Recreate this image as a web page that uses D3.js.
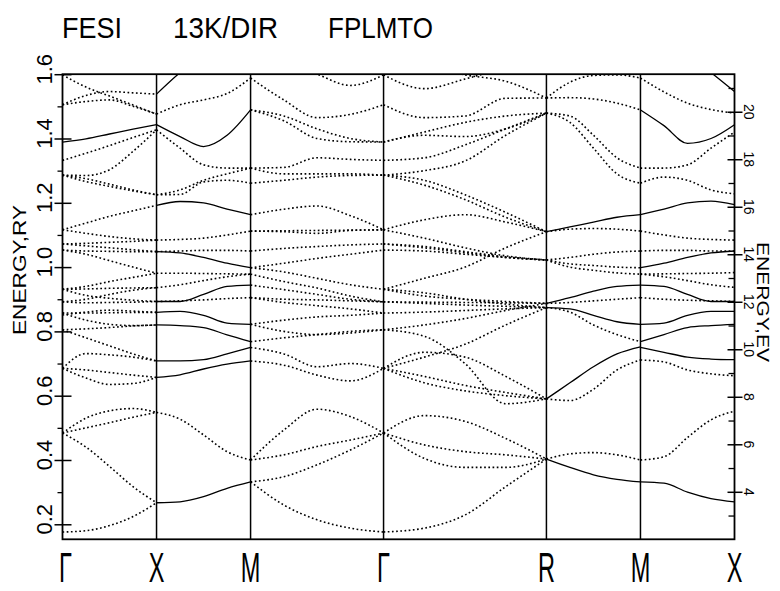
<!DOCTYPE html>
<html>
<head>
<meta charset="utf-8">
<script src="https://cdn.jsdelivr.net/npm/d3@7"></script>
<style>
  body { margin: 0; background: #fff; }
  text { font-family: "Liberation Sans", "DejaVu Sans", sans-serif; fill: #000; }
</style>
</head>
<body>
<svg id="chart" width="780" height="591"></svg>
<script>
// symmetry points along the k path and their distances (units of 2pi/a)
const kNames = ["Γ", "X", "M", "Γ", "R", "M", "X"];
const kDist = [0, 0.5, 1.0, 1.7071, 2.5731, 3.0731, 3.5731];

const ryTicks = [0.2, 0.4, 0.6, 0.8, 1.0, 1.2, 1.4, 1.6];
const ryMinor = [0.3, 0.5, 0.7, 0.9, 1.1, 1.3, 1.5];
const evTicks = [4, 6, 8, 10, 12, 14, 16, 18, 20];
const evMinor = [3, 5, 7, 9, 11, 13, 15, 17, 19, 21];

// band energies (Ry), sampled evenly along each segment
// "pairs" are degenerate bands that plot as a continuous line
const bandsGX = [
  [0.176, 0.180, 0.196, 0.224, 0.267],
  [0.484, 0.44, 0.38, 0.317, 0.267],
  [0.484, 0.53, 0.553, 0.56, 0.548],
  [0.484, 0.50, 0.516, 0.533, 0.548],
  [0.685, 0.655, 0.635, 0.638, 0.657],
  [0.685, 0.68, 0.672, 0.664, 0.657],
  [0.685, 0.731, 0.727, 0.72, 0.708],
  [0.805, 0.78, 0.755, 0.73, 0.708],
  [0.805, 0.808, 0.812, 0.817, 0.82],
  [0.857, 0.835, 0.822, 0.818, 0.82],
  [0.857, 0.857, 0.858, 0.859, 0.859],
  [0.851, 0.86, 0.866, 0.863, 0.859],
  [0.892, 0.889, 0.89, 0.891, 0.893],
  [0.931, 0.912, 0.903, 0.897, 0.893],
  [0.892, 0.9, 0.915, 0.928, 0.936],
  [0.931, 0.932, 0.934, 0.935, 0.936],
  [0.931, 0.94, 0.955, 0.968, 0.981],
  [1.053, 1.04, 1.02, 1.0, 0.981],
  [1.053, 1.05, 1.049, 1.048, 1.048],
  [1.072, 1.066, 1.06, 1.054, 1.048],
  [1.072, 1.074, 1.077, 1.08, 1.084],
  [1.116, 1.105, 1.095, 1.088, 1.084],
  [1.116, 1.137, 1.158, 1.175, 1.192],
  [1.286, 1.266, 1.251, 1.237, 1.225],
  [1.286, 1.275, 1.258, 1.24, 1.225],
  [1.286, 1.285, 1.303, 1.36, 1.427],
  [1.332, 1.354, 1.378, 1.403, 1.427],
  [1.505, 1.515, 1.52, 1.50, 1.476],
  [1.598, 1.56, 1.532, 1.504, 1.476],
  [1.505, 1.534, 1.546, 1.542, 1.538]
];
const pairsGX = [
  [1.389, 1.399, 1.414, 1.429, 1.443]
];

const bandsXM = [
  [0.548, 0.527, 0.478, 0.426, 0.40],
  [1.084, 1.086, 1.09, 1.10, 1.112],
  [1.048, 1.05, 1.052, 1.052, 1.05],
  [0.981, 0.981, 0.98, 0.979, 0.978],
  [0.936, 0.945, 0.958, 0.97, 0.978],
  [0.893, 0.895, 0.898, 0.902, 0.905],
  [1.476, 1.505, 1.52, 1.54, 1.588],
  [1.427, 1.37, 1.318, 1.308, 1.308],
  [1.225, 1.226, 1.265, 1.27, 1.261],
  [1.225, 1.24, 1.27, 1.29, 1.308]
];
const pairsXM = [
  [0.267, 0.27, 0.286, 0.312, 0.332],
  [0.657, 0.665, 0.683, 0.698, 0.708],
  [0.708, 0.708, 0.712, 0.73, 0.75],
  [0.82, 0.818, 0.812, 0.789, 0.768],
  [0.859, 0.862, 0.85, 0.826, 0.822],
  [0.893, 0.893, 0.915, 0.94, 0.944],
  [1.048, 1.044, 1.03, 1.012, 0.998],
  [1.192, 1.204, 1.2, 1.18, 1.163],
  [1.443, 1.406, 1.375, 1.41, 1.489],
  [1.538, 1.605, 1.66, 1.70, 1.72]
];

const bandsMG = [
  [0.40, 0.493, 0.558, 0.535, 0.484],
  [0.40, 0.416, 0.442, 0.462, 0.484],
  [0.332, 0.348, 0.385, 0.431, 0.484],
  [0.332, 0.26, 0.214, 0.188, 0.176],
  [0.708, 0.695, 0.664, 0.646, 0.685],
  [0.75, 0.73, 0.69, 0.70, 0.685],
  [0.768, 0.78, 0.79, 0.80, 0.805],
  [0.822, 0.80, 0.79, 0.795, 0.805],
  [0.822, 0.835, 0.845, 0.85, 0.857],
  [0.905, 0.89, 0.88, 0.87, 0.857],
  [0.905, 0.90, 0.898, 0.895, 0.892],
  [0.944, 0.93, 0.915, 0.9, 0.892],
  [0.978, 0.955, 0.935, 0.91, 0.892],
  [0.998, 0.985, 0.965, 0.945, 0.931],
  [0.998, 1.012, 1.027, 1.04, 1.053],
  [1.05, 1.058, 1.064, 1.069, 1.072],
  [1.112, 1.11, 1.105, 1.114, 1.116],
  [1.112, 1.113, 1.114, 1.115, 1.116],
  [1.163, 1.18, 1.19, 1.16, 1.116],
  [1.261, 1.27, 1.28, 1.285, 1.286],
  [1.308, 1.31, 1.34, 1.335, 1.332],
  [1.308, 1.29, 1.29, 1.29, 1.286],
  [1.489, 1.455, 1.40, 1.39, 1.389],
  [1.489, 1.47, 1.43, 1.40, 1.389],
  [1.588, 1.52, 1.465, 1.475, 1.505],
  [1.70, 1.64, 1.60, 1.565, 1.598]
];
const pairsMG = [];

const bandsGR = [
  [0.484, 0.538, 0.52, 0.467, 0.403],
  [0.484, 0.447, 0.426, 0.416, 0.403],
  [0.484, 0.405, 0.377, 0.377, 0.403],
  [0.176, 0.188, 0.229, 0.317, 0.403],
  [0.685, 0.66, 0.632, 0.61, 0.59],
  [0.685, 0.64, 0.615, 0.60, 0.59],
  [0.685, 0.735, 0.72, 0.66, 0.59],
  [0.805, 0.785, 0.70, 0.575, 0.59],
  [0.685, 0.72, 0.76, 0.82, 0.874],
  [0.805, 0.82, 0.84, 0.865, 0.887],
  [0.857, 0.86, 0.865, 0.87, 0.874],
  [0.892, 0.891, 0.89, 0.889, 0.887],
  [0.892, 0.887, 0.882, 0.878, 0.874],
  [0.931, 0.92, 0.9, 0.885, 0.874],
  [0.931, 0.91, 0.9, 0.893, 0.887],
  [0.931, 0.965, 1.0, 1.06, 1.11],
  [1.053, 1.05, 1.04, 1.03, 1.022],
  [1.072, 1.064, 1.048, 1.032, 1.022],
  [1.072, 1.06, 1.045, 1.03, 1.022],
  [1.116, 1.09, 1.06, 1.035, 1.022],
  [1.116, 1.147, 1.163, 1.14, 1.11],
  [1.286, 1.255, 1.21, 1.155, 1.11],
  [1.286, 1.27, 1.225, 1.17, 1.11],
  [1.286, 1.30, 1.33, 1.41, 1.479],
  [1.332, 1.34, 1.38, 1.43, 1.479],
  [1.389, 1.41, 1.406, 1.43, 1.479],
  [1.389, 1.42, 1.45, 1.47, 1.479],
  [1.505, 1.465, 1.47, 1.525, 1.526],
  [1.66, 1.63, 1.598, 1.578, 1.526],
  [1.598, 1.555, 1.585, 1.62, 1.65]
];
const pairsGR = [];

const bandsRM = [
  [0.403, 0.419, 0.423, 0.416, 0.40],
  [0.59, 0.585, 0.62, 0.68, 0.711],
  [0.874, 0.86, 0.82, 0.79, 0.768],
  [0.887, 0.89, 0.895, 0.90, 0.905],
  [1.022, 1.03, 1.04, 1.047, 1.05],
  [1.022, 1.01, 1.005, 1.0, 0.998],
  [1.022, 1.0, 0.99, 0.982, 0.978],
  [1.11, 1.118, 1.12, 1.118, 1.112],
  [1.479, 1.47, 1.41, 1.34, 1.308],
  [1.479, 1.45, 1.37, 1.29, 1.261],
  [1.526, 1.575, 1.596, 1.598, 1.588],
  [1.526, 1.527, 1.523, 1.51, 1.489]
];
const pairsRM = [
  [0.403, 0.377, 0.354, 0.34, 0.332],
  [0.59, 0.64, 0.69, 0.73, 0.752],
  [0.874, 0.87, 0.85, 0.83, 0.822],
  [0.887, 0.905, 0.925, 0.94, 0.944],
  [1.11, 1.125, 1.14, 1.155, 1.163]
];

const bandsMX = [
  [0.40, 0.41, 0.47, 0.525, 0.552],
  [0.711, 0.705, 0.68, 0.668, 0.662],
  [0.905, 0.90, 0.897, 0.895, 0.893],
  [0.978, 0.979, 0.98, 0.981, 0.983],
  [0.978, 0.97, 0.958, 0.945, 0.937],
  [1.05, 1.052, 1.052, 1.05, 1.05],
  [1.112, 1.10, 1.09, 1.086, 1.084],
  [1.261, 1.28, 1.27, 1.24, 1.228],
  [1.308, 1.308, 1.318, 1.37, 1.42],
  [1.588, 1.545, 1.51, 1.49, 1.479]
];
const pairsMX = [
  [0.332, 0.328, 0.30, 0.28, 0.27],
  [0.75, 0.735, 0.72, 0.714, 0.712],
  [0.768, 0.79, 0.812, 0.818, 0.822],
  [0.822, 0.826, 0.85, 0.862, 0.862],
  [0.944, 0.94, 0.915, 0.893, 0.893],
  [0.998, 1.012, 1.03, 1.044, 1.05],
  [1.163, 1.18, 1.2, 1.205, 1.194],
  [1.489, 1.44, 1.385, 1.40, 1.443],
  [1.72, 1.70, 1.66, 1.605, 1.546]
];

const segBands = [bandsGX, bandsXM, bandsMG, bandsGR, bandsRM, bandsMX];
const segPairs = [pairsGX, pairsXM, pairsMG, pairsGR, pairsRM, pairsMX];

// layout
const plot = { left: 62.5, right: 734.5, top: 74.2, bottom: 539.3 };

const svg = d3.select("#chart");

const x = d3.scaleLinear().domain([0, kDist[kDist.length - 1]]).range([plot.left, plot.right]);
const y = d3.scaleLinear().domain([0.1533, 1.6]).range([plot.bottom, plot.top]);
const yEv = d3.scaleLinear().domain([2.0, 21.58]).range([plot.bottom, plot.top]);

svg.append("defs").append("clipPath").attr("id", "clip")
  .append("rect")
  .attr("x", plot.left).attr("y", plot.top)
  .attr("width", plot.right - plot.left).attr("height", plot.bottom - plot.top);

const line = d3.line().curve(d3.curveMonotoneX);

const bandG = svg.append("g").attr("clip-path", "url(#clip)");

function drawSegment(list, i, solid) {
  const k0 = kDist[i], k1 = kDist[i + 1];
  list.forEach(e => {
    const pts = e.map((v, j) => [x(k0 + (k1 - k0) * j / (e.length - 1)), y(v)]);
    bandG.append("path")
      .attr("d", line(pts))
      .attr("fill", "none")
      .attr("stroke", "#000")
      .attr("stroke-width", solid ? 1.3 : 1.6)
      .attr("stroke-dasharray", solid ? null : "1.7,2.5");
  });
}

segBands.forEach((list, i) => drawSegment(list, i, false));
segPairs.forEach((list, i) => drawSegment(list, i, true));

// symmetry lines
svg.append("g").selectAll("line")
  .data(kDist.slice(1, -1))
  .enter().append("line")
  .attr("x1", d => x(d)).attr("x2", d => x(d))
  .attr("y1", plot.top).attr("y2", plot.bottom)
  .attr("stroke", "#000").attr("stroke-width", 1.5);

// frame
svg.append("rect")
  .attr("x", plot.left).attr("y", plot.top)
  .attr("width", plot.right - plot.left).attr("height", plot.bottom - plot.top)
  .attr("fill", "none").attr("stroke", "#000").attr("stroke-width", 1.8);

// left axis (Ry)
const leftAxis = svg.append("g").attr("transform", `translate(${plot.left},0)`);
leftAxis.call(d3.axisLeft(y).tickValues(ryTicks).tickSize(8).tickFormat(""))
  .call(g => g.select(".domain").remove())
  .call(g => g.selectAll(".tick line").attr("x2", -8).attr("x1", 9).attr("stroke-width", 1.5));
leftAxis.append("g")
  .call(d3.axisLeft(y).tickValues(ryMinor).tickSize(5).tickFormat(""))
  .call(g => g.select(".domain").remove())
  .call(g => g.selectAll(".tick line").attr("stroke-width", 1.3));

svg.append("g").selectAll("text")
  .data(ryTicks)
  .enter().append("text")
  .attr("transform", d => `translate(52,${y(d) - 5}) rotate(-90)`)
  .attr("text-anchor", "middle")
  .style("font-size", "22px")
  .text(d => d3.format(".1f")(d));

// right axis (eV)
const rightAxis = svg.append("g").attr("transform", `translate(${plot.right},0)`);
rightAxis.call(d3.axisRight(yEv).tickValues(evTicks).tickSize(8).tickFormat(""))
  .call(g => g.select(".domain").remove())
  .call(g => g.selectAll(".tick line").attr("x1", -7).attr("stroke-width", 1.5));
rightAxis.append("g")
  .call(d3.axisLeft(yEv).tickValues(evMinor).tickSize(6).tickFormat(""))
  .call(g => g.select(".domain").remove())
  .call(g => g.selectAll(".tick line").attr("stroke-width", 1.3));

svg.append("g").selectAll("text")
  .data(evTicks)
  .enter().append("text")
  .attr("transform", d => `translate(744,${yEv(d)}) rotate(90)`)
  .attr("text-anchor", "middle")
  .style("font-size", "14px")
  .text(d => d);

// axis titles
svg.append("text")
  .attr("transform", "translate(26,270) rotate(-90)")
  .attr("text-anchor", "middle")
  .attr("textLength", 130)
  .attr("lengthAdjust", "spacingAndGlyphs")
  .style("font-size", "18px")
  .text("ENERGY,RY");

svg.append("text")
  .attr("transform", "translate(757,302) rotate(90)")
  .attr("text-anchor", "middle")
  .attr("textLength", 120)
  .attr("lengthAdjust", "spacingAndGlyphs")
  .style("font-size", "16px")
  .text("ENERGY,EV");

// title
const titleParts = [["FESI", 62, 60], ["13K/DIR", 173, 105], ["FPLMTO", 328, 105]];
svg.append("g").selectAll("text")
  .data(titleParts)
  .enter().append("text")
  .attr("x", d => d[1]).attr("y", 38)
  .attr("textLength", d => d[2])
  .attr("lengthAdjust", "spacingAndGlyphs")
  .style("font-size", "29px")
  .text(d => d[0]);

// k-point labels
svg.append("g").selectAll("text")
  .data(kNames)
  .enter().append("text")
  .attr("transform", (d, i) => `translate(${x(kDist[i]) + (i === 0 ? 3 : 0)},582) scale(0.62,1.1)`)
  .attr("text-anchor", "middle")
  .style("font-size", "38px")
  .text(d => d);
</script>
</body>
</html>
